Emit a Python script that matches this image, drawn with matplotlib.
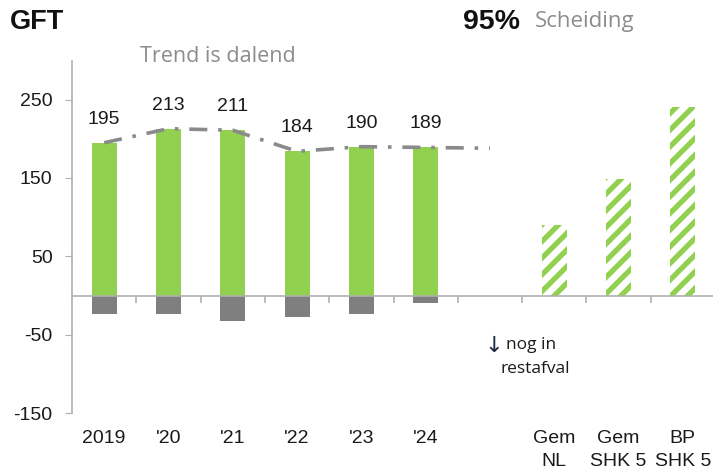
import matplotlib
matplotlib.use("Agg")
import matplotlib.pyplot as plt
from matplotlib.transforms import blended_transform_factory

# data
years = ["2019", "'20", "'21", "'22", "'23", "'24"]
gft = [195, 213, 211, 184, 190, 189]
rest = [-23, -23, -33, -28, -24, -9]
trend = [195, 213, 211, 184, 190, 189, 188]
bench_labels = ["Gem\nNL", "Gem\nSHK 5", "BP\nSHK 5"]
bench = [90, 149, 241]

GREEN = "#92D050"
GREY = "#7F7F7F"
W, H = 713, 472

plt.rcParams['font.family'] = ['Liberation Sans', 'DejaVu Sans']
plt.rcParams['hatch.linewidth'] = 3.8

fig = plt.figure(figsize=(W / 100, H / 100), dpi=100)
ax = fig.add_axes([72 / W, 1 - 413 / H, 643 / W, (413 - 60.5) / H])

x_years = list(range(len(years)))
x_bench = [7 + i for i in range(len(bench))]

ax.bar(x_years, gft, width=0.39, color=GREEN, zorder=2)
ax.bar(x_years, rest, width=0.39, color=GREY, zorder=2)
ax.bar(x_bench, bench, width=0.39, color="white", edgecolor=GREEN,
       hatch="//", linewidth=0, zorder=2)

ax.plot(range(len(trend)), trend, color="#8a8a8a", lw=2.6,
        ls=(0, (5, 3, 1, 3)), zorder=3, solid_capstyle="round")

for x, v in zip(x_years, gft):
    ax.annotate(str(v), (x, v), xytext=(0, 17), textcoords="offset points",
                ha="center", va="center", fontsize=14, color="#1a1a1a")

ax.set_xlim(-0.5, 9.5)
ax.set_ylim(-150, 300)

for s in ["top", "right"]:
    ax.spines[s].set_visible(False)
ax.spines["left"].set_color("#b0b0b0")
ax.spines["bottom"].set_color("#b0b0b0")
ax.spines["bottom"].set_position(("data", 0))
ax.spines["left"].set_linewidth(1.2)
ax.spines["bottom"].set_linewidth(1.2)

ax.set_yticks([250, 150, 50, -50, -150])
ax.set_yticklabels(["250", "150", "50", "-50", "-150"])
ax.tick_params(axis="y", length=5, color="#b0b0b0", labelsize=14,
               pad=9, labelcolor="#1a1a1a")
ax.set_xticks([i + 0.5 for i in range(9)])
ax.set_xticklabels([])
ax.tick_params(axis="x", length=5, color="#b0b0b0", width=1.2)

# category labels below the plot
tr = blended_transform_factory(ax.transData, fig.transFigure)
for x, lab in zip(x_years + x_bench, years + bench_labels):
    ax.text(x, 1 - 430 / H, lab, transform=tr, ha="center", va="top",
            fontsize=14, color="#1a1a1a", linespacing=1.45)

fig.text(10 / W, 1 - 22 / H, "GFT", fontsize=19.5, fontweight="bold",
         va="center", ha="left", color="#111111")
fig.text(463 / W, 1 - 22 / H, "95%", fontsize=20.5, fontweight="bold",
         va="center", ha="left", color="#111111")
fig.text(535 / W, 1 - 22 / H, "Scheiding", fontsize=16, va="center",
         ha="left", color="#8c8c8c", family=["Open Sans", "DejaVu Sans"])
fig.text(140 / W, 1 - 56 / H, "Trend is dalend", fontsize=15.5, va="center",
         ha="left", color="#8c8c8c", family=["Open Sans", "DejaVu Sans"])
fig.text(484 / W, 1 - 346 / H, "\u2193", fontsize=16, va="center",
         ha="left", color="#1a2a40", family=["DejaVu Sans"])
fig.text(506 / W, 1 - 345 / H, "nog in", fontsize=12.5, va="center",
         ha="left", color="#1a1a1a", family=["Open Sans", "DejaVu Sans"])
fig.text(500 / W, 1 - 369 / H, "restafval", fontsize=12.5, va="center",
         ha="left", color="#1a1a1a", family=["Open Sans", "DejaVu Sans"])

fig.savefig("out.png", dpi=100)
